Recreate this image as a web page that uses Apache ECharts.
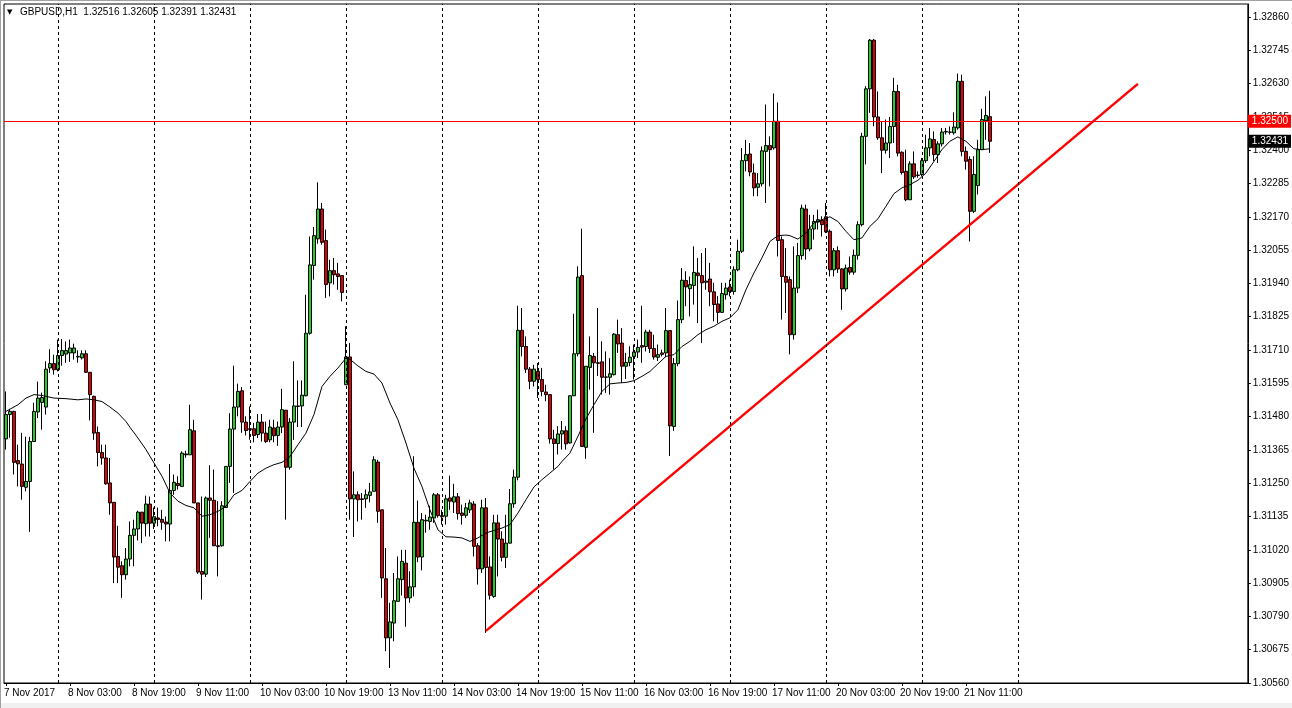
<!DOCTYPE html>
<html>
<head>
<meta charset="utf-8">
<script src="https://cdn.jsdelivr.net/npm/echarts@6/dist/echarts.min.js"></script>
<style>
html,body{margin:0;padding:0;background:#fff;}
#wrap{position:relative;width:1292px;height:708px;overflow:hidden;background:#fff;}
#chart{position:absolute;left:0;top:0;width:1292px;height:708px;}
#edgeL{position:absolute;left:0;top:0;width:1px;height:708px;background:#a0a0a0;}
#edgeT{position:absolute;left:0;top:0;width:1292px;height:1px;background:#a0a0a0;}
#edgeB{position:absolute;left:0;top:703px;width:1292px;height:5px;background:#f0f0f0;}
</style>
</head>
<body>
<div id="wrap"><div id="edgeB"></div><div id="chart"></div><div id="edgeL"></div><div id="edgeT"></div></div>
<script>
// ---- data (GBPUSD H1) ----
const symbolTitle = 'GBPUSD,H1  1.32516 1.32605 1.32391 1.32431';
const timeLabels = ['7 Nov 2017','8 Nov 03:00','8 Nov 19:00','9 Nov 11:00','10 Nov 03:00','10 Nov 19:00','13 Nov 11:00','14 Nov 03:00','14 Nov 19:00','15 Nov 11:00','16 Nov 03:00','16 Nov 19:00','17 Nov 11:00','20 Nov 03:00','20 Nov 19:00','21 Nov 11:00'];
const labelStep = 16;          // one time label every 16 hourly bars
const daySeparators = [13,37,61,85,109,133,157,181,205,229,253]; // midnight bars
const slotCount = 311;         // bars that fit on the time axis (incl. empty future space)

const open = [
1.31403,1.31487,1.31498,1.31328,1.31316,1.31236,1.31256,1.31394,1.31496,1.31529,
1.31513,1.31648,1.31663,1.31642,1.31691,1.31696,1.31700,1.31700,1.31688,1.31683,
1.31697,1.31633,1.31550,1.31425,1.31356,1.31337,1.31251,1.31184,1.30997,1.30965,
1.30934,1.30988,1.31070,1.31092,1.31150,1.31110,1.31178,1.31112,1.31130,1.31125,
1.31116,1.31109,1.31225,1.31249,1.31239,1.31351,1.31348,1.31431,1.31182,1.30945,
1.30936,1.31199,1.31191,1.31034,1.31034,1.31166,1.31308,1.31437,1.31513,1.31569,
1.31461,1.31438,1.31438,1.31418,1.31461,1.31423,1.31400,1.31441,1.31415,1.31444,
1.31502,1.31305,1.31461,1.31515,1.31517,1.31552,1.31768,1.32002,1.32094,1.32197,
1.32088,1.31942,1.31984,1.31973,1.31967,1.31590,1.31686,1.31196,1.31210,1.31196,
1.31196,1.31208,1.31222,1.31323,1.31158,1.30920,1.30716,1.30767,1.30842,1.30917,
1.30974,1.30854,1.30892,1.31115,1.30995,1.31120,1.31118,1.31130,1.31210,1.31138,
1.31136,1.31199,1.31185,1.31203,1.31147,1.31139,1.31158,1.31178,1.31034,1.30954,
1.31165,1.30961,1.30859,1.31113,1.31057,1.30994,1.31043,1.31179,1.31271,1.31778,
1.31722,1.31644,1.31602,1.31636,1.31608,1.31565,1.31556,1.31403,1.31387,1.31420,
1.31431,1.31389,1.31552,1.31697,1.31967,1.31374,1.31650,1.31688,1.31666,1.31669,
1.31617,1.31616,1.31625,1.31763,1.31734,1.31654,1.31667,1.31688,1.31703,1.31725,
1.31722,1.31772,1.31715,1.31685,1.31700,1.31700,1.31777,1.31446,1.31663,1.31815,
1.31950,1.31922,1.31933,1.31976,1.31967,1.31944,1.31955,1.31911,1.31869,1.31840,
1.31901,1.31928,1.31912,1.31987,1.32051,1.32364,1.32387,1.32321,1.32272,1.32284,
1.32396,1.32416,1.32408,1.32500,1.32091,1.31964,1.31953,1.31763,1.31924,1.32036,
1.32197,1.32059,1.32128,1.32152,1.32158,1.32170,1.32120,1.31987,1.32053,1.31990,
1.31921,1.31995,1.31979,1.32037,1.32143,1.32448,1.32612,1.32780,1.32515,1.32443,
1.32400,1.32425,1.32482,1.32603,1.32393,1.32327,1.32229,1.32353,1.32313,1.32316,
1.32364,1.32408,1.32437,1.32385,1.32422,1.32463,1.32462,1.32460,1.32477,1.32638,
1.32396,1.32368,1.32189,1.32278,1.32402,1.32502,1.32516];

const close = [
1.31487,1.31498,1.31322,1.31317,1.31239,1.31256,1.31394,1.31498,1.31544,1.31546,
1.31644,1.31663,1.31642,1.31691,1.31708,1.31708,1.31717,1.31717,1.31686,1.31697,
1.31633,1.31556,1.31423,1.31356,1.31337,1.31248,1.31182,1.30995,1.30960,1.30934,
1.30988,1.31070,1.31092,1.31150,1.31112,1.31178,1.31112,1.31134,1.31125,1.31115,
1.31109,1.31225,1.31253,1.31242,1.31354,1.31348,1.31435,1.31182,1.30943,1.30936,
1.31199,1.31191,1.31034,1.31031,1.31172,1.31308,1.31437,1.31513,1.31567,1.31461,
1.31432,1.31436,1.31415,1.31461,1.31423,1.31394,1.31444,1.31414,1.31444,1.31504,
1.31305,1.31461,1.31517,1.31517,1.31554,1.31768,1.32004,1.32105,1.32197,1.32082,
1.31936,1.31984,1.31970,1.31964,1.31909,1.31686,1.31196,1.31210,1.31193,1.31194,
1.31210,1.31220,1.31331,1.31153,1.30923,1.30716,1.30771,1.30844,1.30920,1.30980,
1.30854,1.30892,1.31115,1.30995,1.31124,1.31122,1.31133,1.31210,1.31138,1.31134,
1.31196,1.31188,1.31203,1.31145,1.31139,1.31165,1.31182,1.31032,1.30954,1.31165,
1.30959,1.30863,1.31113,1.31057,1.30994,1.31043,1.31179,1.31271,1.31778,1.31722,
1.31644,1.31602,1.31644,1.31608,1.31567,1.31556,1.31403,1.31387,1.31420,1.31431,
1.31386,1.31552,1.31697,1.31962,1.31377,1.31654,1.31691,1.31666,1.31664,1.31616,
1.31616,1.31628,1.31765,1.31731,1.31654,1.31667,1.31685,1.31703,1.31719,1.31720,
1.31772,1.31715,1.31686,1.31694,1.31695,1.31777,1.31448,1.31663,1.31815,1.31951,
1.31928,1.31936,1.31978,1.31967,1.31942,1.31948,1.31911,1.31867,1.31840,1.31905,
1.31924,1.31912,1.31987,1.32051,1.32364,1.32385,1.32325,1.32270,1.32284,1.32398,
1.32416,1.32402,1.32500,1.32088,1.31964,1.31944,1.31763,1.31924,1.32036,1.32200,
1.32059,1.32128,1.32154,1.32160,1.32143,1.32118,1.31987,1.32053,1.31990,1.31921,
1.31993,1.31979,1.32037,1.32143,1.32448,1.32612,1.32780,1.32515,1.32443,1.32400,
1.32425,1.32482,1.32603,1.32390,1.32323,1.32229,1.32353,1.32308,1.32314,1.32364,
1.32408,1.32439,1.32385,1.32422,1.32463,1.32465,1.32463,1.32480,1.32638,1.32396,
1.32362,1.32189,1.32316,1.32402,1.32506,1.32520,1.32431];

const low = [
1.31366,1.31407,1.31280,1.31239,1.31193,1.31222,1.31082,1.31394,1.31475,1.31435,
1.31487,1.31631,1.31625,1.31636,1.31656,1.31666,1.31669,1.31677,1.31666,1.31677,
1.31631,1.31467,1.31400,1.31308,1.31314,1.31245,1.31141,1.30905,1.30905,1.30854,
1.30917,1.30963,1.30963,1.31052,1.31043,1.31066,1.31066,1.31092,1.31101,1.31089,
1.31049,1.31049,1.31210,1.31228,1.31239,1.31338,1.31348,1.31182,1.30937,1.30848,
1.30926,1.31061,1.31034,1.30928,1.31031,1.31166,1.31251,1.31216,1.31481,1.31424,
1.31415,1.31400,1.31391,1.31406,1.31394,1.31389,1.31391,1.31391,1.31379,1.31423,
1.31124,1.31297,1.31400,1.31444,1.31444,1.31550,1.31763,1.31953,1.32077,1.32074,
1.31890,1.31895,1.31936,1.31918,1.31878,1.31590,1.31124,1.31064,1.31118,1.31124,
1.31165,1.31184,1.31222,1.31113,1.30854,1.30670,1.30612,1.30704,1.30842,1.30862,
1.30754,1.30837,1.30859,1.30977,1.30949,1.31079,1.31089,1.31113,1.31131,1.31107,
1.31107,1.31158,1.31147,1.31124,1.31107,1.31130,1.31147,1.30997,1.30900,1.30940,
1.30733,1.30848,1.30854,1.30928,1.30980,1.30957,1.31043,1.31165,1.31260,1.31688,
1.31631,1.31575,1.31584,1.31544,1.31550,1.31533,1.31387,1.31297,1.31349,1.31366,
1.31366,1.31387,1.31552,1.31688,1.31377,1.31334,1.31573,1.31424,1.31620,1.31556,
1.31562,1.31556,1.31622,1.31700,1.31596,1.31610,1.31654,1.31608,1.31682,1.31666,
1.31705,1.31700,1.31677,1.31672,1.31688,1.31685,1.31344,1.31431,1.31654,1.31803,
1.31861,1.31826,1.31867,1.31803,1.31734,1.31918,1.31861,1.31809,1.31803,1.31838,
1.31884,1.31895,1.31901,1.31982,1.32045,1.32327,1.32310,1.32241,1.32241,1.32275,
1.32218,1.32275,1.32402,1.32033,1.31815,1.31838,1.31695,1.31746,1.31907,1.32022,
1.32022,1.32051,1.32091,1.32126,1.32102,1.32114,1.31964,1.31964,1.31976,1.31849,
1.31912,1.31970,1.31970,1.32022,1.32137,1.32351,1.32529,1.32483,1.32436,1.32321,
1.32388,1.32373,1.32425,1.32379,1.32316,1.32224,1.32229,1.32301,1.32305,1.32310,
1.32356,1.32379,1.32362,1.32356,1.32413,1.32454,1.32454,1.32454,1.32471,1.32379,
1.32333,1.32085,1.32183,1.32247,1.32402,1.32436,1.32391];

const high = [
1.31567,1.31507,1.31500,1.31383,1.31424,1.31411,1.31410,1.31528,1.31601,1.31563,
1.31671,1.31713,1.31694,1.31746,1.31748,1.31740,1.31746,1.31732,1.31709,1.31709,
1.31709,1.31633,1.31552,1.31446,1.31383,1.31383,1.31337,1.31184,1.31103,1.30980,
1.31026,1.31118,1.31124,1.31155,1.31151,1.31207,1.31204,1.31166,1.31166,1.31158,
1.31135,1.31316,1.31280,1.31274,1.31360,1.31362,1.31521,1.31469,1.31182,1.31204,
1.31204,1.31312,1.31297,1.31188,1.31188,1.31308,1.31492,1.31656,1.31594,1.31582,
1.31481,1.31515,1.31458,1.31489,1.31489,1.31463,1.31469,1.31469,1.31463,1.31576,
1.31502,1.31475,1.31671,1.31605,1.31605,1.31901,1.32102,1.32135,1.32289,1.32218,
1.32126,1.32022,1.32028,1.32011,1.31967,1.31792,1.31734,1.31291,1.31222,1.31216,
1.31228,1.31251,1.31343,1.31331,1.31158,1.31026,1.30837,1.30940,1.30997,1.31020,
1.31020,1.30946,1.31343,1.31190,1.31147,1.31141,1.31172,1.31216,1.31216,1.31158,
1.31210,1.31276,1.31248,1.31216,1.31176,1.31182,1.31193,1.31188,1.31043,1.31193,
1.31199,1.30997,1.31141,1.31141,1.31084,1.31141,1.31230,1.31297,1.31863,1.31855,
1.31757,1.31651,1.31659,1.31665,1.31648,1.31590,1.31556,1.31435,1.31447,1.31465,
1.31447,1.31552,1.31835,1.31999,1.32129,1.31654,1.31757,1.31700,1.31855,1.31740,
1.31705,1.31682,1.31768,1.31815,1.31786,1.31700,1.31723,1.31729,1.31746,1.31863,
1.31780,1.31780,1.31763,1.31729,1.31711,1.31855,1.31777,1.31682,1.31881,1.31993,
1.31982,1.31964,1.32068,1.32028,1.32045,1.32062,1.32011,1.31942,1.31896,1.31942,
1.31942,1.31953,1.31999,1.32091,1.32408,1.32436,1.32425,1.32354,1.32321,1.32413,
1.32558,1.32448,1.32596,1.32565,1.32102,1.32062,1.31964,1.32068,1.32080,1.32212,
1.32212,1.32177,1.32177,1.32195,1.32172,1.32218,1.32126,1.32062,1.32068,1.31993,
1.32005,1.32033,1.32057,1.32155,1.32460,1.32621,1.32784,1.32784,1.32603,1.32500,
1.32506,1.32515,1.32650,1.32626,1.32396,1.32402,1.32362,1.32396,1.32327,1.32373,
1.32454,1.32477,1.32465,1.32431,1.32477,1.32477,1.32482,1.32531,1.32665,1.32661,
1.32413,1.32379,1.32379,1.32436,1.32543,1.32586,1.32605];

// moving average line, read at these bar indices
const maIdx = [0,3,5,7,9,12,15,18,20,22,24,26,28,30,31,33,35,37,39,41,43,45,47,49,51,53,55,57,59,61,63,65,67,69,71,73,75,77,79,81,83,85,86,88,90,92,94,96,98,100,102,104,106,108,110,112,114,116,118,120,122,124,126,128,130,132,134,136,138,139,141,143,145,147,149,151,153,155,157,159,161,163,165,167,169,171,173,175,177,179,181,183,185,187,189,191,193,195,196,198,200,202,204,206,208,210,212,214,216,218,220,222,224,226,228,230,232,234,236,238,240,242,244,246];
const maVal = [1.31498,1.31521,1.31544,1.31556,1.31553,1.31544,1.31542,1.31538,1.31541,1.31538,1.31532,1.31513,1.31492,1.31463,1.31443,1.31406,1.31366,1.31320,1.31274,1.31216,1.31188,1.31173,1.31165,1.31136,1.31141,1.31153,1.31170,1.31210,1.31225,1.31256,1.31285,1.31302,1.31314,1.31322,1.31342,1.31383,1.31423,1.31487,1.31584,1.31619,1.31648,1.31682,1.31678,1.31655,1.31636,1.31627,1.31596,1.31527,1.31469,1.31389,1.31302,1.31239,1.31158,1.31089,1.31065,1.31064,1.31061,1.31049,1.31061,1.31078,1.31087,1.31095,1.31107,1.31147,1.31193,1.31237,1.31262,1.31285,1.31308,1.31325,1.31354,1.31412,1.31472,1.31521,1.31567,1.31593,1.31596,1.31598,1.31604,1.31619,1.31636,1.31662,1.31688,1.31694,1.31722,1.31740,1.31763,1.31780,1.31792,1.31809,1.31821,1.31849,1.31918,1.31976,1.32028,1.32085,1.32105,1.32107,1.32105,1.32093,1.32114,1.32149,1.32160,1.32170,1.32154,1.32120,1.32091,1.32097,1.32137,1.32163,1.32206,1.32250,1.32270,1.32281,1.32296,1.32321,1.32361,1.32402,1.32431,1.32446,1.32431,1.32405,1.32402,1.32405];

// hand-drawn trend line (bar index, price)
const trendIdx = [120, 283];
const trendVal = [1.30740, 1.32629];

const levelPrice = 1.32500;   // horizontal level line
const lastPrice = 1.32431;    // current bid

// price axis
const yMin = 1.30560, yMax = 1.32905, yStep = 0.00115;

// ---- chart ----
const chart = echarts.init(document.getElementById('chart'), null, {renderer: 'canvas'});
const cats = Array.from({length: slotCount}, (_, i) => String(i));
const candles = open.map((o, i) => [o, close[i], low[i], high[i]]);
const showLabel = (i) => i % labelStep === 0 && i / labelStep < timeLabels.length;
const FONT = 'Liberation Sans';

chart.setOption({
  animation: false,
  backgroundColor: 'transparent',
  graphic: [
    {type: 'text', left: 7, top: 9, style: {text: '\u25BC', font: '7px "DejaVu Sans"', fill: '#000'}},
    {type: 'text', left: 20, top: 7, style: {text: symbolTitle, font: '10px "' + FONT + '"', fill: '#000'}}
  ],
  grid: {left: 4, right: 44, top: 4, bottom: 25, show: true, borderColor: '#000', borderWidth: 1, backgroundColor: 'transparent'},
  xAxis: {
    type: 'category', data: cats, boundaryGap: true,
    axisLine: {show: true, lineStyle: {color: '#000', width: 1}},
    axisTick: {show: true, interval: (i) => showLabel(i), alignWithLabel: true, length: 3, lineStyle: {color: '#000'}},
    axisLabel: {
      interval: (i) => showLabel(i), align: 'left', margin: 5, color: '#000',
      fontFamily: FONT, fontSize: 10, padding: [0, 0, 0, -2],
      formatter: (v) => { const i = +v; return showLabel(i) ? timeLabels[i / labelStep] : ''; }
    },
    splitLine: {show: false}
  },
  yAxis: {
    type: 'value', position: 'right', min: yMin, max: yMax, interval: yStep,
    axisLine: {show: true, lineStyle: {color: '#000'}},
    axisTick: {show: true, length: 3, lineStyle: {color: '#000'}},
    axisLabel: {color: '#000', fontFamily: FONT, fontSize: 10, margin: 5, showMaxLabel: false,
      formatter: (v) => v.toFixed(5)},
    splitLine: {show: false}
  },
  series: [
    {
      type: 'line', data: [], z: 1, silent: true,
      markLine: {
        silent: true, symbol: 'none', animation: false,
        label: {show: false},
        lineStyle: {color: '#000', type: [3, 3], width: 1},
        data: daySeparators.map(d => ({xAxis: d}))
      }
    },
    {
      type: 'line', data: maIdx.map((x, i) => [x, maVal[i]]), z: 1,
      showSymbol: false, symbol: 'none', lineStyle: {opacity: 0}, silent: true,
      markLine: {
        silent: true, symbol: 'none', animation: false, precision: 5,
        data: [
          {yAxis: levelPrice, lineStyle: {color: '#ff0000', width: 1, type: 'solid'},
           label: {show: true, position: 'end', distance: 0, formatter: levelPrice.toFixed(5),
             backgroundColor: '#ff0000', color: '#fff', padding: [2, 3, 1, 4], fontFamily: FONT, fontSize: 10}},
          {yAxis: lastPrice, lineStyle: {color: 'rgba(0,0,0,0)', width: 1},
           label: {show: true, position: 'end', distance: 0, formatter: lastPrice.toFixed(5),
             backgroundColor: '#000', color: '#fff', padding: [2, 3, 1, 4], fontFamily: FONT, fontSize: 10}}
        ]
      }
    },
    {
      type: 'candlestick', data: candles, z: 2, barWidth: 3,
      itemStyle: {color: '#22d022', color0: '#e00000', borderColor: '#000', borderColor0: '#000', borderWidth: 1}
    },
    {
      type: 'line', data: maIdx.map((x, i) => [x, maVal[i]]), z: 3,
      showSymbol: false, symbol: 'none', lineStyle: {color: '#000', width: 1}, silent: true
    },
    {
      type: 'line', data: trendIdx.map((x, i) => [x, trendVal[i]]), z: 4,
      showSymbol: false, symbol: 'none', lineStyle: {color: '#ff0000', width: 2.5}, silent: true
    }
  ]
});
</script>
</body>
</html>
